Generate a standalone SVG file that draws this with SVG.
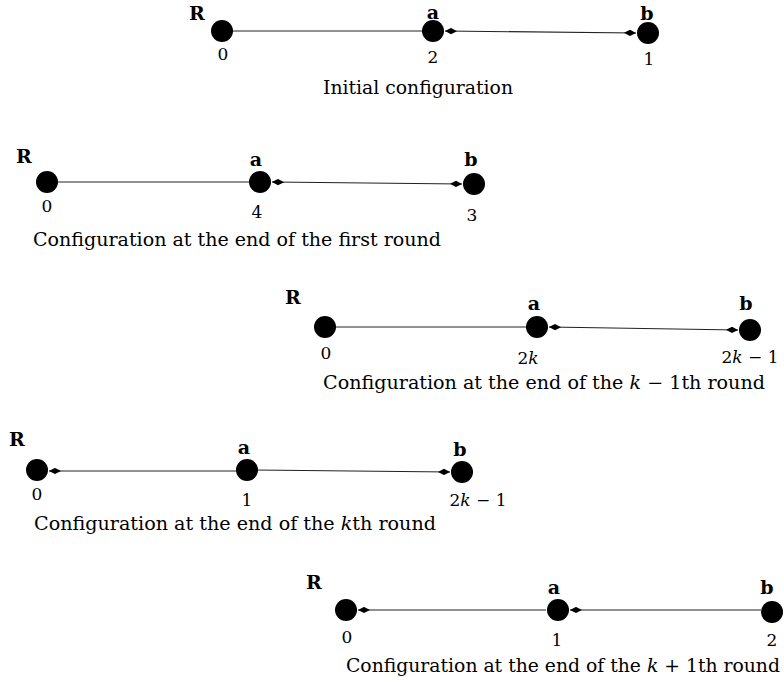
<svg xmlns="http://www.w3.org/2000/svg" width="784" height="682" viewBox="0 0 784 682">
<style>
.n{fill:#000}
.e{stroke:#222;stroke-width:1.1;fill:none}
.lb{font-family:"DejaVu Serif","Liberation Serif",serif;font-weight:bold;font-size:19px;text-anchor:middle;fill:#000}
.t{font-family:"DejaVu Serif","Liberation Serif",serif;font-size:17px;text-anchor:middle;fill:#000}
.c{font-family:"DejaVu Serif","Liberation Serif",serif;font-size:18px;text-anchor:middle;fill:#000}
.i{font-style:italic}
</style>
<defs>
<marker id="ah" viewBox="0 0 12 7" refX="12" refY="3.5" markerWidth="12" markerHeight="7" markerUnits="userSpaceOnUse" orient="auto-start-reverse">
<path d="M12,3.5 L6,0.4 L0,3.5 L6,6.6 Z" fill="#000"/>
</marker>
</defs>
<rect width="784" height="682" fill="#fff"/>
<g id="connectors">
<line class="e" x1="222" y1="31" x2="433" y2="31"/>
<line class="e" x1="445" y1="31" x2="636" y2="33" marker-start="url(#ah)" marker-end="url(#ah)"/>
<line class="e" x1="47" y1="182" x2="260" y2="182"/>
<line class="e" x1="272" y1="182" x2="462" y2="184" marker-start="url(#ah)" marker-end="url(#ah)"/>
<line class="e" x1="325" y1="327" x2="537" y2="327"/>
<line class="e" x1="549" y1="327" x2="738" y2="330" marker-start="url(#ah)" marker-end="url(#ah)"/>
<line class="e" x1="236" y1="471" x2="49" y2="471" marker-end="url(#ah)"/>
<line class="e" x1="247" y1="470" x2="450" y2="472" marker-end="url(#ah)"/>
<line class="e" x1="546" y1="610" x2="358" y2="610" marker-end="url(#ah)"/>
<line class="e" x1="761" y1="610" x2="570" y2="610" marker-end="url(#ah)"/>
</g>
<g id="row1">
<g id="r1-R"><circle class="n" cx="222" cy="31" r="11"/><text class="lb" x="197" y="20">R</text><text class="t" x="223" y="60">0</text></g>
<g id="r1-a"><circle class="n" cx="433" cy="31" r="11"/><text class="lb" x="433" y="19">a</text><text class="t" x="433" y="63">2</text></g>
<g id="r1-b"><circle class="n" cx="648" cy="33" r="11"/><text class="lb" x="647" y="20">b</text><text class="t" x="649" y="65">1</text></g>
<text class="c" x="418" y="94" textLength="190" lengthAdjust="spacingAndGlyphs">Initial configuration</text>
</g>
<g id="row2">
<g id="r2-R"><circle class="n" cx="47" cy="182" r="11"/><text class="lb" x="24" y="163">R</text><text class="t" x="47" y="212">0</text></g>
<g id="r2-a"><circle class="n" cx="260" cy="182" r="11"/><text class="lb" x="256" y="166">a</text><text class="t" x="257" y="218">4</text></g>
<g id="r2-b"><circle class="n" cx="474" cy="184" r="11"/><text class="lb" x="471" y="166">b</text><text class="t" x="472" y="221">3</text></g>
<text class="c" x="237" y="246" textLength="408" lengthAdjust="spacingAndGlyphs">Configuration at the end of the first round</text>
</g>
<g id="row3">
<g id="r3-R"><circle class="n" cx="325" cy="327" r="11"/><text class="lb" x="293" y="304">R</text><text class="t" x="326" y="359">0</text></g>
<g id="r3-a"><circle class="n" cx="537" cy="327" r="11"/><text class="lb" x="534" y="310">a</text><text class="t" x="528" y="364">2<tspan class="i">k</tspan></text></g>
<g id="r3-b"><circle class="n" cx="750" cy="330" r="11"/><text class="lb" x="746" y="310">b</text><text class="t" x="750" y="363">2<tspan class="i">k</tspan> − 1</text></g>
<text class="c" x="544" y="389" textLength="442" lengthAdjust="spacingAndGlyphs">Configuration at the end of the <tspan class="i">k</tspan> − 1th round</text>
</g>
<g id="row4">
<g id="r4-R"><circle class="n" cx="37" cy="470" r="11"/><text class="lb" x="17" y="446">R</text><text class="t" x="37" y="500">0</text></g>
<g id="r4-a"><circle class="n" cx="247" cy="470" r="11"/><text class="lb" x="244" y="454">a</text><text class="t" x="247" y="506">1</text></g>
<g id="r4-b"><circle class="n" cx="462" cy="472" r="11"/><text class="lb" x="460" y="456">b</text><text class="t" x="478" y="506">2<tspan class="i">k</tspan> − 1</text></g>
<text class="c" x="235" y="530" textLength="402" lengthAdjust="spacingAndGlyphs">Configuration at the end of the <tspan class="i">k</tspan>th round</text>
</g>
<g id="row5">
<g id="r5-R"><circle class="n" cx="346" cy="610" r="11"/><text class="lb" x="314" y="589">R</text><text class="t" x="347" y="643">0</text></g>
<g id="r5-a"><circle class="n" cx="558" cy="610" r="11"/><text class="lb" x="554" y="594">a</text><text class="t" x="557" y="646">1</text></g>
<g id="r5-b"><circle class="n" cx="772" cy="612" r="11"/><text class="lb" x="767" y="594">b</text><text class="t" x="772" y="646">2</text></g>
<text class="c" x="563" y="672" textLength="434" lengthAdjust="spacingAndGlyphs">Configuration at the end of the <tspan class="i">k</tspan> + 1th round</text>
</g>
</svg>
